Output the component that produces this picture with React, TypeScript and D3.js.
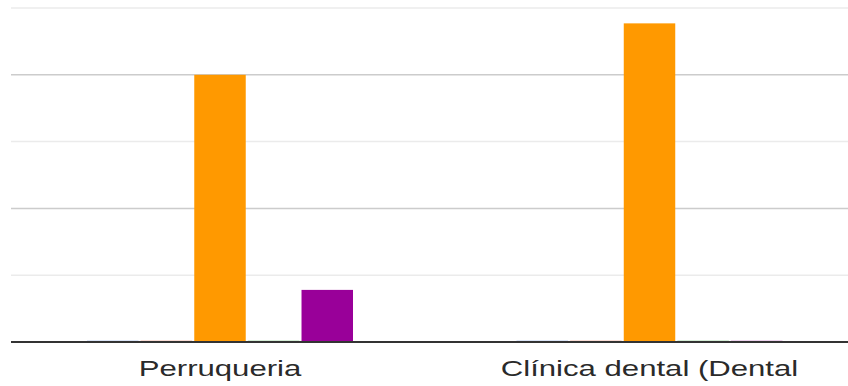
import React from "react";
import * as d3 from "d3";

const categories = ["Perruqueria", "Clínica dental (Dental"];
const seriesNames = ["S1", "S2", "S3", "S4", "S5"];
const seriesColors = ["#3366cc", "#dc3912", "#ff9900", "#109618", "#990099"];
const perruqueriaValues = [0, 0, 4.0, 0, 0.78];
const clinicaValues = [0, 0, 4.77, 0, 0];
const majorTicks = [2, 4];
const minorTicks = [1, 3, 5];

const W = 848;
const H = 386;

export default function App() {
  const values = [perruqueriaValues, clinicaValues];
  const x0 = d3.scaleBand<string>().domain(categories).range([5.25, 864.25]).padding(0);
  const groupW = 266;
  const x1 = d3
    .scaleBand<string>()
    .domain(seriesNames)
    .range([0, groupW])
    .paddingInner(0.04)
    .paddingOuter(0);
  const y = d3.scaleLinear().domain([0, 5]).range([342, 8]);
  const left = 11;

  return (
    <svg
      width={W}
      height={H}
      style={{ position: "absolute", left: 0, top: 0, background: "#fff" }}
    >
      <rect x={0} y={0} width={W} height={H} fill="#fff" />
      {minorTicks.map((t) => (
        <line key={"mi" + t} x1={left} x2={W} y1={y(t)} y2={y(t)} stroke="#ebebeb" strokeWidth={1.5} />
      ))}
      {majorTicks.map((t) => (
        <line key={"ma" + t} x1={left} x2={W} y1={y(t)} y2={y(t)} stroke="#cccccc" strokeWidth={1.5} />
      ))}
      {categories.map((c, ci) => {
        const gx = (x0(c) as number) + x0.bandwidth() / 2 - groupW / 2;
        return (
          <g key={c} transform={`translate(${gx},0)`}>
            {seriesNames.map((s, si) => {
              const v = values[ci][si];
              const bx = x1(s) as number;
              const bw = x1.bandwidth();
              if (v === 0) {
                return (
                  <rect key={s} x={bx} y={y(0) - 1.5} width={bw} height={1} fill={seriesColors[si]} opacity={0.35} />
                );
              }
              return (
                <rect key={s} x={bx} y={y(v)} width={bw} height={y(0) - y(v)} fill={seriesColors[si]} />
              );
            })}
          </g>
        );
      })}
      <line x1={left} x2={W} y1={y(0)} y2={y(0)} stroke="#333333" strokeWidth={2} />
      {categories.map((c) => {
        const cx = (x0(c) as number) + x0.bandwidth() / 2;
        return (
          <text
            key={"t" + c}
            transform={`translate(${cx},376) scale(1.415,1)`}
            textAnchor="middle"
            fontFamily="Liberation Sans, Arial, sans-serif"
            fontSize={22}
            fill="#2a2a2a"
          >
            {c}
          </text>
        );
      })}
    </svg>
  );
}
